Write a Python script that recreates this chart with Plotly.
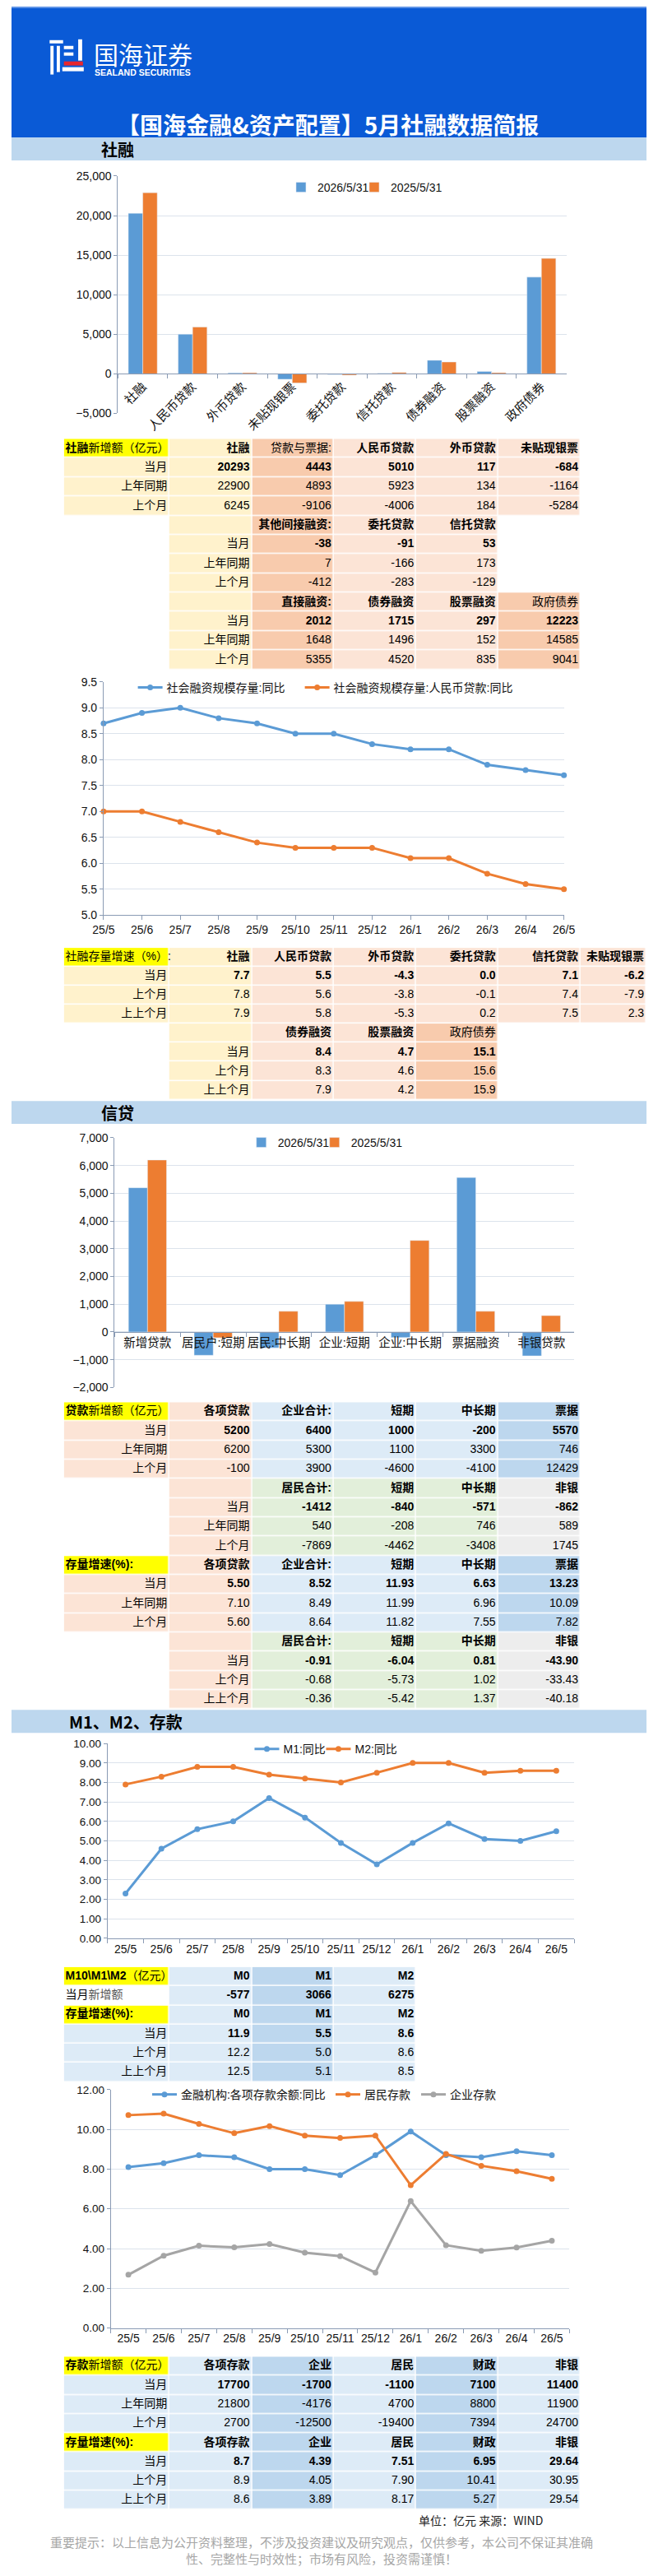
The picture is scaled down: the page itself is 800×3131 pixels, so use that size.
import plotly.graph_objects as go

W, H = 800, 3131

# ---------------- data ----------------
sf_cats = ["社融", "人民币贷款", "外币贷款", "未贴现银票", "委托贷款", "信托贷款", "债券融资", "股票融资", "政府债券"]
sf_2026 = [20293, 5010, 117, -684, -91, 53, 1715, 297, 12223]
sf_2025 = [22900, 5923, 134, -1164, -166, 173, 1496, 152, 14585]

months = ["25/5", "25/6", "25/7", "25/8", "25/9", "25/10", "25/11", "25/12", "26/1", "26/2", "26/3", "26/4", "26/5"]
tsf_yoy = [8.7, 8.9, 9.0, 8.8, 8.7, 8.5, 8.5, 8.3, 8.2, 8.2, 7.9, 7.8, 7.7]
tsf_rmb_yoy = [7.0, 7.0, 6.8, 6.6, 6.4, 6.3, 6.3, 6.3, 6.1, 6.1, 5.8, 5.6, 5.5]

loan_cats = ["新增贷款", "居民户:短期", "居民:中长期", "企业:短期", "企业:中长期", "票据融资", "非银贷款"]
loan_2026 = [5200, -840, -571, 1000, -200, 5570, -862]
loan_2025 = [6200, -208, 746, 1100, 3300, 746, 589]

m1_yoy = [2.3, 4.6, 5.6, 6.0, 7.2, 6.2, 4.9, 3.8, 4.9, 5.9, 5.1, 5.0, 5.5]
m2_yoy = [7.9, 8.3, 8.8, 8.8, 8.4, 8.2, 8.0, 8.5, 9.0, 9.0, 8.5, 8.6, 8.6]

dep_total = [8.1, 8.3, 8.7, 8.6, 8.0, 8.0, 7.7, 8.7, 9.9, 8.7, 8.6, 8.9, 8.7]
dep_house = [10.72, 10.8, 10.28, 9.81, 10.17, 9.69, 9.57, 9.69, 7.19, 8.77, 8.17, 7.90, 7.51]
dep_corp = [2.68, 3.64, 4.14, 4.06, 4.23, 3.79, 3.62, 2.79, 6.39, 4.17, 3.89, 4.05, 4.39]

row_lbl3 = ["当月", "上年同期", "上个月"]
row_lbl_g = ["当月", "上个月", "上上个月"]

# table 1: 社融新增额
t1_head = ["社融", "贷款与票据:", "人民币贷款", "外币贷款", "未贴现银票"]
t1_cur = [20293, 4443, 5010, 117, -684]
t1_ly = [22900, 4893, 5923, 134, -1164]
t1_lm = [6245, -9106, -4006, 184, -5284]
t1b_head = ["其他间接融资:", "委托贷款", "信托贷款"]
t1b_cur = [-38, -91, 53]
t1b_ly = [7, -166, 173]
t1b_lm = [-412, -283, -129]
t1c_head = ["直接融资:", "债券融资", "股票融资", "政府债券"]
t1c_cur = [2012, 1715, 297, 12223]
t1c_ly = [1648, 1496, 152, 14585]
t1c_lm = [5355, 4520, 835, 9041]

# table 2: 社融存量增速
t2_head = ["社融", "人民币贷款", "外币贷款", "委托贷款", "信托贷款", "未贴现银票"]
t2_cur = [7.7, 5.5, -4.3, 0.0, 7.1, -6.2]
t2_lm = [7.8, 5.6, -3.8, -0.1, 7.4, -7.9]
t2_llm = [7.9, 5.8, -5.3, 0.2, 7.5, 2.3]
t2b_head = ["债券融资", "股票融资", "政府债券"]
t2b_cur = [8.4, 4.7, 15.1]
t2b_lm = [8.3, 4.6, 15.6]
t2b_llm = [7.9, 4.2, 15.9]

# table 3: 贷款
t3_head = ["各项贷款", "企业合计:", "短期", "中长期", "票据"]
t3_cur = [5200, 6400, 1000, -200, 5570]
t3_ly = [6200, 5300, 1100, 3300, 746]
t3_lm = [-100, 3900, -4600, -4100, 12429]
t3b_head = ["居民合计:", "短期", "中长期", "非银"]
t3b_cur = [-1412, -840, -571, -862]
t3b_ly = [540, -208, 746, 589]
t3b_lm = [-7869, -4462, -3408, 1745]
t3g_cur = [5.50, 8.52, 11.93, 6.63, 13.23]
t3g_ly = [7.10, 8.49, 11.99, 6.96, 10.09]
t3g_lm = [5.60, 8.64, 11.82, 7.55, 7.82]
t3gb_cur = [-0.91, -6.04, 0.81, -43.90]
t3gb_lm = [-0.68, -5.73, 1.02, -33.43]
t3gb_llm = [-0.36, -5.42, 1.37, -40.18]

# table 4: M0 M1 M2
t4_head = ["M0", "M1", "M2"]
t4_new = [-577, 3066, 6275]
t4_cur = [11.9, 5.5, 8.6]
t4_lm = [12.2, 5.0, 8.6]
t4_llm = [12.5, 5.1, 8.5]

# table 5: 存款
t5_head = ["各项存款", "企业", "居民", "财政", "非银"]
t5_cur = [17700, -1700, -1100, 7100, 11400]
t5_ly = [21800, -4176, 4700, 8800, 11900]
t5_lm = [2700, -12500, -19400, 7394, 24700]
t5g_cur = [8.7, 4.39, 7.51, 6.95, 29.64]
t5g_lm = [8.9, 4.05, 7.90, 10.41, 30.95]
t5g_llm = [8.6, 3.89, 8.17, 5.27, 29.54]
t5g_dec = [1, 2, 2, 2, 2]

# ---------------- style ----------------
BLUE = "#5B9BD5"
ORANGE = "#ED7D31"
GRAY = "#A5A5A5"
GRID = "#DCE3EC"
AXC = "#8A9BB4"
TXT = "#111111"
FONT = "Liberation Sans, Arial, Noto Sans CJK SC, sans-serif"
CJK = "Noto Sans CJK SC, Liberation Sans, sans-serif"
FILL_KEYS = ["Y", "C", "P", "L", "W", "B", "D", "G", "E"]
FILLS = {"Y": "#FFFF00", "C": "#FFF2CC", "P": "#F8CBAD", "L": "#FCE4D6", "W": "#FFFFFF",
         "B": "#DDEBF7", "D": "#BDD7EE", "G": "#E2EFDA", "E": "#EDEDED"}
NORMAL_HDR = {"贷款与票据:", "政府债券"}

CS = []
for i, k in enumerate(FILL_KEYS):
    CS.append([i / len(FILL_KEYS), FILLS[k]])
    CS.append([(i + 1) / len(FILL_KEYS), FILLS[k]])


def px(x):
    return x / W


def py(y):
    return 1 - y / H


def hdr(n):
    return n if n in NORMAL_HDR else "<b>%s</b>" % n


def f(v, d=0, bold=False):
    s = ("%." + str(d) + "f") % v
    return "<b>%s</b>" % s if bold else s


def vals(lst, d=0, bold=False):
    if isinstance(d, list):
        return [f(v, dd, bold) for v, dd in zip(lst, d)]
    return [f(v, d, bold) for v in lst]


fig = go.Figure()
LAYOUT_AXES = {}


def add_table(idx, rows, fill_codes, edges, top, rowh, left_cells=()):
    ax = str(idx)
    nrow, ncol = len(rows), len(rows[0])
    z = [[FILL_KEYS.index(fill_codes[r].split()[c]) for c in range(ncol)] for r in range(nrow)]
    fig.add_trace(go.Heatmap(x=edges, y=list(range(nrow + 1)), z=z, colorscale=CS,
                             zmin=-0.5, zmax=len(FILL_KEYS) - 0.5, showscale=False,
                             xgap=1.5, ygap=1.5, hoverinfo="skip",
                             xaxis="x" + ax, yaxis="y" + ax))
    tx, ty, tt, tp = [], [], [], []
    for r in range(nrow):
        for c in range(ncol):
            s = rows[r][c]
            if not s:
                continue
            if (r, c) in left_cells:
                tx.append(edges[c] + 2)
                tp.append("middle right")
            else:
                tx.append(edges[c + 1] - 3)
                tp.append("middle left")
            ty.append(r + 0.5)
            tt.append(s)
    fig.add_trace(go.Scatter(x=tx, y=ty, text=tt, mode="text", textposition=tp,
                             textfont=dict(family=FONT, size=14, color="#000000"),
                             hoverinfo="skip", showlegend=False, cliponaxis=False,
                             xaxis="x" + ax, yaxis="y" + ax))
    LAYOUT_AXES["xaxis" + ax] = dict(domain=[px(edges[0]), px(edges[-1])], range=[edges[0], edges[-1]],
                                     visible=False, fixedrange=True, anchor="y" + ax)
    LAYOUT_AXES["yaxis" + ax] = dict(domain=[py(top + nrow * rowh), py(top)], range=[nrow, 0],
                                     visible=False, fixedrange=True, anchor="x" + ax)


# ---------------- chart 1: 社融 bars ----------------
fig.add_trace(go.Bar(x=sf_cats, y=sf_2026, name="2026/5/31", marker_color=BLUE, legendwidth=44,
                     xaxis="x", yaxis="y", legend="legend"))
fig.add_trace(go.Bar(x=sf_cats, y=sf_2025, name="2025/5/31", marker_color=ORANGE,
                     xaxis="x", yaxis="y", legend="legend"))

# ---------------- chart 2: 社融存量同比 ----------------
for nm, ys, col, lw in [("社会融资规模存量:同比", tsf_yoy, BLUE, 158),
                        ("社会融资规模存量:人民币贷款:同比", tsf_rmb_yoy, ORANGE, None)]:
    fig.add_trace(go.Scatter(x=months, y=ys, name=nm, mode="lines+markers",
                             line=dict(color=col, width=3), marker=dict(size=7, color=col),
                             legendwidth=lw, cliponaxis=False, xaxis="x2", yaxis="y2", legend="legend2"))

# ---------------- chart 3: 信贷 bars ----------------
fig.add_trace(go.Bar(x=loan_cats, y=loan_2026, name="2026/5/31", marker_color=BLUE, legendwidth=44,
                     xaxis="x3", yaxis="y3", legend="legend3"))
fig.add_trace(go.Bar(x=loan_cats, y=loan_2025, name="2025/5/31", marker_color=ORANGE,
                     xaxis="x3", yaxis="y3", legend="legend3"))

# ---------------- chart 4: M1 M2 ----------------
for nm, ys, col, lw in [("M1:同比", m1_yoy, BLUE, 42), ("M2:同比", m2_yoy, ORANGE, None)]:
    fig.add_trace(go.Scatter(x=months, y=ys, name=nm, mode="lines+markers",
                             line=dict(color=col, width=3), marker=dict(size=7, color=col),
                             legendwidth=lw, cliponaxis=False, xaxis="x4", yaxis="y4", legend="legend4"))

# ---------------- chart 5: deposits ----------------
for nm, ys, col, lw in [("金融机构:各项存款余额:同比", dep_total, BLUE, 178), ("居民存款", dep_house, ORANGE, 59),
                        ("企业存款", dep_corp, GRAY, None)]:
    fig.add_trace(go.Scatter(x=months, y=ys, name=nm, mode="lines+markers",
                             line=dict(color=col, width=3), marker=dict(size=7, color=col),
                             legendwidth=lw, cliponaxis=False, xaxis="x5", yaxis="y5", legend="legend5"))

# ---------------- tables ----------------
E6 = [66, 199, 303, 406, 510, 613, 717]
E7 = [66, 199, 303, 406, 510, 613, 717, 800]
E4 = [66, 199, 303, 406, 510]

t1_rows = [["<b>社融</b>新增额（亿元）"] + [hdr(n) for n in t1_head],
           [row_lbl3[0]] + vals(t1_cur, 0, True),
           [row_lbl3[1]] + vals(t1_ly),
           [row_lbl3[2]] + vals(t1_lm),
           ["", ""] + [hdr(n) for n in t1b_head] + [""],
           ["", row_lbl3[0]] + vals(t1b_cur, 0, True) + [""],
           ["", row_lbl3[1]] + vals(t1b_ly) + [""],
           ["", row_lbl3[2]] + vals(t1b_lm) + [""],
           ["", ""] + [hdr(n) for n in t1c_head],
           ["", row_lbl3[0]] + vals(t1c_cur, 0, True),
           ["", row_lbl3[1]] + vals(t1c_ly),
           ["", row_lbl3[2]] + vals(t1c_lm)]
t1_fill = ["Y C P L L L"] + ["C C P L L L"] * 3 + ["W C P L L W"] * 4 + ["W C P L L P"] * 4
add_table(6, t1_rows, t1_fill, E6, 528, 23.5, left_cells={(0, 0)})

t2_rows = [["社融存量增速（%）:"] + [hdr(n) for n in t2_head],
           [row_lbl_g[0]] + vals(t2_cur, 1, True),
           [row_lbl_g[1]] + vals(t2_lm, 1),
           [row_lbl_g[2]] + vals(t2_llm, 1),
           ["", ""] + [hdr(n) for n in t2b_head] + ["", ""],
           ["", row_lbl_g[0]] + vals(t2b_cur, 1, True) + ["", ""],
           ["", row_lbl_g[1]] + vals(t2b_lm, 1) + ["", ""],
           ["", row_lbl_g[2]] + vals(t2b_llm, 1) + ["", ""]]
t2_fill = ["Y C L L L L L"] + ["C C L L L L L"] * 3 + ["W C L L P W W"] * 4
add_table(7, t2_rows, t2_fill, E7, 1150, 23.2, left_cells={(0, 0)})

t3_rows = [["<b>贷款</b>新增额（亿元）"] + [hdr(n) for n in t3_head],
           [row_lbl3[0]] + vals(t3_cur, 0, True),
           [row_lbl3[1]] + vals(t3_ly),
           [row_lbl3[2]] + vals(t3_lm),
           ["", ""] + [hdr(n) for n in t3b_head],
           ["", row_lbl3[0]] + vals(t3b_cur, 0, True),
           ["", row_lbl3[1]] + vals(t3b_ly),
           ["", row_lbl3[2]] + vals(t3b_lm),
           ["<b>存量增速(%):</b>"] + [hdr(n) for n in t3_head],
           [row_lbl3[0]] + vals(t3g_cur, 2, True),
           [row_lbl3[1]] + vals(t3g_ly, 2),
           [row_lbl3[2]] + vals(t3g_lm, 2),
           ["", ""] + [hdr(n) for n in t3b_head],
           ["", row_lbl_g[0]] + vals(t3gb_cur, 2, True),
           ["", row_lbl_g[1]] + vals(t3gb_lm, 2),
           ["", row_lbl_g[2]] + vals(t3gb_llm, 2)]
t3_fill = (["Y L B B B D"] + ["L L B B B D"] * 3 + ["W L G G G E"] * 4 +
           ["Y L B B B D"] + ["L L B B B D"] * 3 + ["W L G G G E"] * 4)
add_table(8, t3_rows, t3_fill, E6, 1705, 23.45, left_cells={(0, 0), (8, 0)})

t4_rows = [["<b>M10\\M1\\M2</b>（亿元）"] + [hdr(n) for n in t4_head],
           ['当月<span style="color:#555555">新增额</span>'] + vals(t4_new, 0, True),
           ["<b>存量增速(%):</b>"] + [hdr(n) for n in t4_head],
           [row_lbl_g[0]] + vals(t4_cur, 1, True),
           [row_lbl_g[1]] + vals(t4_lm, 1),
           [row_lbl_g[2]] + vals(t4_llm, 1)]
t4_fill = ["Y B D B", "W B D B", "Y B D B"] + ["B B D B"] * 3
add_table(9, t4_rows, t4_fill, E4, 2395, 23.4, left_cells={(0, 0), (1, 0), (2, 0)})

t5_rows = [["<b>存款</b>新增额（亿元）"] + [hdr(n) for n in t5_head],
           [row_lbl3[0]] + vals(t5_cur, 0, True),
           [row_lbl3[1]] + vals(t5_ly),
           [row_lbl3[2]] + vals(t5_lm),
           ["<b>存量增速(%):</b>"] + [hdr(n) for n in t5_head],
           [row_lbl_g[0]] + vals(t5g_cur, t5g_dec, True),
           [row_lbl_g[1]] + vals(t5g_lm, t5g_dec),
           [row_lbl_g[2]] + vals(t5g_llm, t5g_dec)]
t5_fill = ["Y B D B D B"] + ["B B D B D B"] * 3 + ["Y B D B D B"] + ["B B D B D B"] * 3
add_table(10, t5_rows, t5_fill, E6, 2871, 23.4, left_cells={(0, 0), (4, 0)})


# ---------------- axes ----------------
def ydom(top, bot):
    return [py(bot), py(top)]


def zero_pos(dom, rng):
    return dom[0] + (0 - rng[0]) / (rng[1] - rng[0]) * (dom[1] - dom[0])


def yax(dom, rng, dtick, fmt, anchor, size=14):
    return dict(domain=dom, range=rng, dtick=dtick, tickformat=fmt, anchor=anchor,
                showgrid=True, gridcolor=GRID, gridwidth=1, showline=True, linecolor=AXC,
                linewidth=1, ticks="outside", ticklen=4, tickcolor=AXC, zeroline=False,
                tickfont=dict(family=FONT, size=size, color=TXT), fixedrange=True)


def xax(dom, anchor, rng=None, boundaries=False, angle=0, position=None, size=14):
    d = dict(domain=dom, type="category", showgrid=False, zeroline=False, showline=True,
             linecolor=AXC, linewidth=1, ticks="outside", ticklen=5, tickcolor=AXC,
             tickangle=angle, tickfont=dict(family=FONT, size=size, color=TXT), fixedrange=True)
    if boundaries:
        d["tickson"] = "boundaries"
    if rng is not None:
        d["range"] = rng
    if position is not None:
        d["anchor"] = "free"
        d["position"] = position
    else:
        d["anchor"] = anchor
    return d


y1d, y1r = ydom(207, 497), [-5000, 25000]
y2d, y2r = ydom(825, 1110), [5, 9.5]
y3d, y3r = ydom(1382, 1687), [-2000, 7000]
y4d, y4r = ydom(2122, 2360), [0, 10]
y5d, y5r = ydom(2545, 2836), [0, 12]


def legend_at(x, y):
    return dict(x=px(x), y=py(y), xanchor="left", yanchor="top", orientation="h",
                bgcolor="rgba(0,0,0,0)", font=dict(family=FONT, size=14, color=TXT),
                itemwidth=30, tracegroupgap=0)


shapes = [
    dict(type="rect", xref="paper", yref="paper", x0=0, x1=1, y0=py(160), y1=1,
         fillcolor="#0A5AD6", line=dict(width=0), layer="below"),
    dict(type="rect", xref="paper", yref="paper", x0=0, x1=1, y0=py(2), y1=1,
         fillcolor="#5E93E6", line=dict(width=0), layer="below"),
]
for top, bot in [(160, 188), (1337, 1365), (2081, 2109)]:
    shapes.append(dict(type="rect", xref="paper", yref="paper", x0=0, x1=1, y0=py(bot), y1=py(top),
                       fillcolor="#BDD7EE", line=dict(width=0), layer="below"))

# logo glyph (decorative)
logo_rects = [(48, 41, 65, 45, "white"), (49, 48, 53, 83, "white"), (57, 48, 61, 80, "white"),
              (84, 40, 89, 66, "white"), (66, 67, 90, 72, "#E8262D"), (64, 74, 91, 79, "white"),
              (66, 48, 78, 52, "white"), (66, 56, 78, 60, "white")]
for x0, y0, x1, y1, c in logo_rects:
    shapes.append(dict(type="rect", xref="paper", yref="paper", x0=px(x0), x1=px(x1),
                       y0=py(y1), y1=py(y0), fillcolor=c, line=dict(width=0)))


def ann(text, x, y, size, color="#000000", xanchor="left", bold=False, family=CJK, align="left"):
    return dict(text="<b>%s</b>" % text if bold else text, x=px(x), y=py(y), xref="paper", yref="paper",
                xanchor=xanchor, yanchor="middle", showarrow=False, align=align,
                font=dict(family=family, size=size, color=color))


annotations = [
    ann("国海证券", 102, 57, 30, "white"),
    ann("<b>SEALAND SECURITIES</b>", 103, 80, 10.5, "white", family="Liberation Sans, sans-serif"),
    ann("【国海金融&资产配置】5月社融数据简报", 398, 144, 28, "white", xanchor="center", bold=True),
    ann("社融", 111, 174, 20, bold=True),
    ann("信贷", 111, 1351, 20, bold=True),
    ann("M1、M2、存款", 70, 2095, 20, bold=True),
    ann("单位：亿元 来源：WIND", 511, 3071, 14, "#222222"),
    ann("重要提示：以上信息为公开资料整理，不涉及投资建议及研究观点，仅供参考，本公司不保证其准确<br>"
        "性、完整性与时效性；市场有风险，投资需谨慎！", 391, 3107, 15, "#A6A6A6",
        xanchor="center", align="center"),
]

fig.update_layout(
    width=W, height=H, margin=dict(l=0, r=0, t=0, b=0),
    paper_bgcolor="white", plot_bgcolor="rgba(0,0,0,0)",
    barmode="group", bargap=0.42, bargroupgap=0,
    font=dict(family=FONT, color=TXT, size=14),
    showlegend=True,
    xaxis=xax([px(134), px(699)], "y", boundaries=True, angle=-45, position=zero_pos(y1d, y1r), size=15),
    yaxis=yax(y1d, y1r, 5000, ",", "x"),
    xaxis2=xax([px(116), px(696)], "y2", rng=[0, 12]),
    yaxis2=yax(y2d, y2r, 0.5, ".1f", "x2"),
    xaxis3=xax([px(130), px(709)], "y3", boundaries=True, position=zero_pos(y3d, y3r), size=14.5),
    yaxis3=yax(y3d, y3r, 1000, ",", "x3"),
    xaxis4=xax([px(121), px(709)], "y4", rng=[-0.5, 12.5], boundaries=True),
    yaxis4=yax(y4d, y4r, 1, ".2f", "x4", size=13.5),
    xaxis5=xax([px(125), px(703)], "y5", rng=[-0.5, 12.5], boundaries=True),
    yaxis5=yax(y5d, y5r, 2, ".2f", "x5", size=13.5),
    legend=legend_at(344, 205),
    legend2=legend_at(154, 816),
    legend3=legend_at(294, 1372),
    legend4=legend_at(301, 2113),
    legend5=legend_at(172, 2535),
    shapes=shapes,
    annotations=annotations,
    **LAYOUT_AXES,
)

fig.write_html("out.html")
